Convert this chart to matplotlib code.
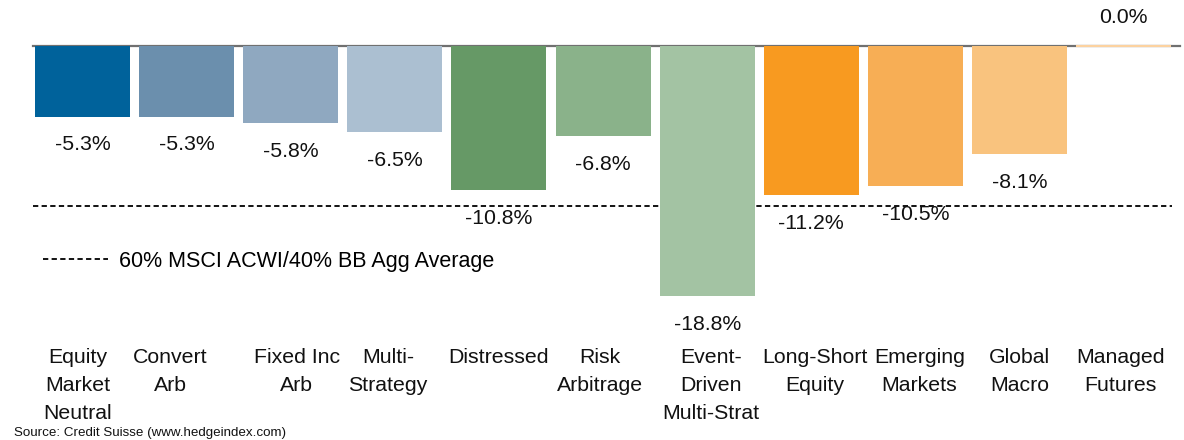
import matplotlib.pyplot as plt
import matplotlib.transforms as mtransforms
from matplotlib.lines import Line2D

# strategy returns (%)
categories = ["Equity\nMarket\nNeutral", "Convert\nArb", "Fixed Inc\nArb", "Multi-\nStrategy",
              "Distressed", "Risk\nArbitrage", "Event-\nDriven\nMulti-Strat", "Long-Short\nEquity",
              "Emerging\nMarkets", "Global\nMacro", "Managed\nFutures"]
returns = [-5.3, -5.3, -5.8, -6.5, -10.8, -6.8, -18.8, -11.2, -10.5, -8.1, 0.0]
benchmark_avg = -12.0
benchmark_label = "60% MSCI ACWI/40% BB Agg Average"
colors = ["#00629b", "#6b8fad", "#8fa8c0", "#abbfd1", "#669966", "#8ab28a", "#a3c3a3",
          "#f89a20", "#f7ae55", "#f9c37e", "#fcd2a0"]

plt.rcParams['font.family'] = ['Liberation Sans', 'DejaVu Sans']
plt.rcParams['lines.scale_dashes'] = False

W, H = 1184, 440
fig = plt.figure(figsize=(W / 100, H / 100), dpi=100)
# axes placed in pixel terms: x from 30.5 to 1175.6, y from top down to pixel 340
ax = fig.add_axes([30.5 / W, 100 / H, 1145.1 / W, 340 / H])
ax.set_xlim(-0.5, 10.5)
ax.set_ylim(-22.1, 3.46)

x = list(range(len(returns)))
bars = ax.bar(x, returns, width=0.913, color=colors, zorder=3)
# the 0.0% bar shows only as a thin line
bars[-1].set_edgecolor(colors[-1])
bars[-1].set_linewidth(1.5)

ax.axhline(0, xmin=0.002, xmax=1.004, color="#707070", lw=1.6, zorder=2, clip_on=False)
ax.axhline(benchmark_avg, xmin=0.002, xmax=0.997, color="black", lw=1.3,
           linestyle=(0, (3.8, 2.4)), zorder=2)

for xi, v in zip(x, returns):
    off = -20.5 if v < 0 else 20.5
    ax.annotate(f"{v:.1f}%", (xi, v), xytext=(0, off), textcoords="offset points",
                ha="center", va="center", fontsize=15.3, color="#111111")

ax.set_xticks(x)
ax.set_xticklabels(categories, fontsize=15.3, linespacing=1.6, color="#111111")
ax.tick_params(axis="x", length=0, pad=6)
ax.set_yticks([])
for s in ax.spines.values():
    s.set_visible(False)

# the category labels in the source are not quite centred under their bars
nudge_px = [-5, -16, 6, -7, 0, -3, 4, 4, 4, 0, -3]
for lab, dx in zip(ax.get_xticklabels(), nudge_px):
    lab.set_transform(lab.get_transform() + mtransforms.ScaledTranslation(dx / 100, 0, fig.dpi_scale_trans))

handle = Line2D([], [], color="black", lw=1.3, linestyle=(0, (3.8, 2.4)))
fig.legend([handle], [benchmark_label], loc="center left",
           bbox_to_anchor=(43 / W, 1 - 261 / H), frameon=False, fontsize=15.5,
           handlelength=3.0, handletextpad=0.55, borderpad=0, borderaxespad=0)

fig.text(14 / W, 1 - 433 / H, "Source: Credit Suisse (www.hedgeindex.com)",
         fontsize=9.6, va="center", ha="left", color="#111111")

fig.savefig("out.png", dpi=100)
